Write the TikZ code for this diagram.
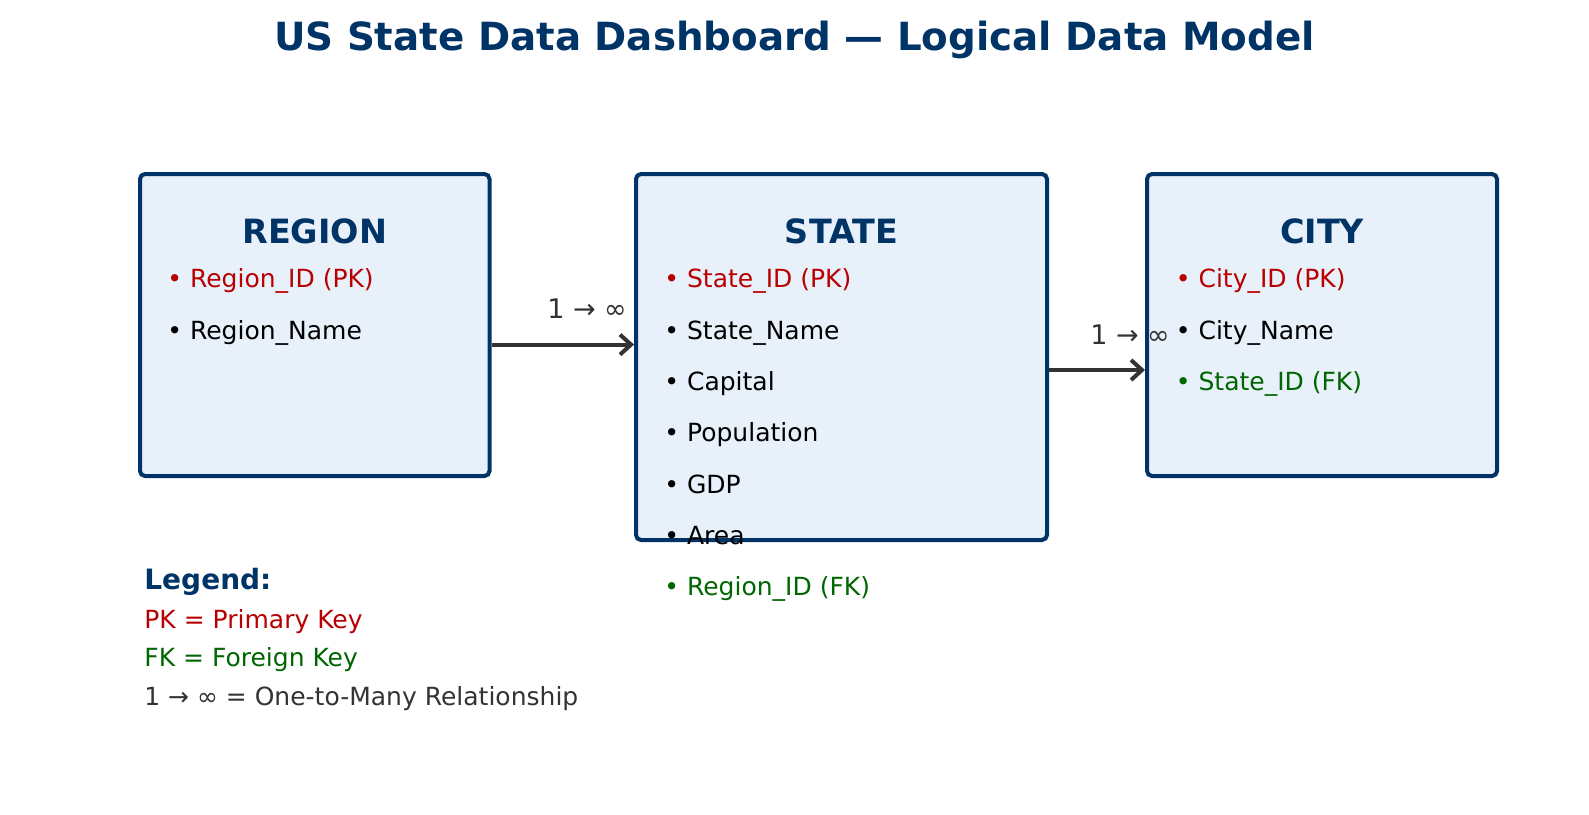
\documentclass[tikz,border=0pt]{standalone}
\usepackage{fontspec}
\setmainfont{DejaVu Sans}
\usetikzlibrary{arrows.meta}
\definecolor{navy}{HTML}{003366}
\definecolor{boxfill}{HTML}{E8F0FA}
\definecolor{pkred}{HTML}{B80000}
\definecolor{fkgreen}{HTML}{006600}
\definecolor{arrgray}{HTML}{333333}
\begin{document}
\begin{tikzpicture}[x=0.5pt,y=-0.5pt,
  entity/.style={draw=navy, fill=boxfill, line width=2pt, rounded corners=2.5pt, inner sep=0pt},
  etitle/.style={text=navy, font=\fontsize{16.7}{20}\selectfont\bfseries, inner sep=0pt, text height=0.73em, text depth=0pt},
  item/.style={anchor=west, font=\fontsize{12.5}{15}\selectfont, inner sep=0pt, text height=0.73em, text depth=0pt},
  rel/.style={text=arrgray, font=\fontsize{13.5}{16}\selectfont, inner sep=0pt, text height=0.73em, text depth=0pt},
  arr/.style={draw=arrgray, line width=2pt, -{Straight Barb[length=5.5pt,width=10pt]}},
  legtitle/.style={anchor=west, text=navy, font=\fontsize{14}{17}\selectfont\bfseries, inner sep=0pt, text height=0.73em, text depth=0pt},
  legitem/.style={anchor=west, font=\fontsize{12.5}{15}\selectfont, inner sep=0pt, text height=0.73em, text depth=0pt}]
\fill[white] (0,0) rectangle (1589,814);
\useasboundingbox (0,0) rectangle (1589,814);

% title
\node[text=navy, font=\fontsize{19.4}{23}\selectfont\bfseries, inner sep=0pt, text height=0.73em, text depth=0pt] (title) at (794.5,43.5) {US State Data Dashboard — Logical Data Model};

% entity boxes
\node[entity, minimum width=174.75pt, minimum height=151pt] (region) at (314.75,325) {};
\node[entity, minimum width=205.5pt, minimum height=183pt] (state) at (841.5,357) {};
\node[entity, minimum width=175pt, minimum height=151pt] (city) at (1322,325) {};

% region contents
\node[etitle] (rtitle) at (314.75,236) {REGION};
\node[item, text=pkred] (r1) at (167,280.5) {• Region\_ID (PK)};
\node[item, text=black] (r2) at (167,331.8) {• Region\_Name};

% state contents
\node[etitle] (stitle) at (841.5,236) {STATE};
\node[item, text=pkred] (s1) at (664,280.5) {• State\_ID (PK)};
\node[item, text=black] (s2) at (664,331.8) {• State\_Name};
\node[item, text=black] (s3) at (664,383.2) {• Capital};
\node[item, text=black] (s4) at (664,434.5) {• Population};
\node[item, text=black] (s5) at (664,485.8) {• GDP};
\node[item, text=black] (s6) at (664,537.2) {• Area};
\node[item, text=fkgreen] (s7) at (664,588.5) {• Region\_ID (FK)};

% city contents
\node[etitle] (ctitle) at (1322,236) {CITY};
\node[item, text=pkred] (c1) at (1175.5,280.5) {• City\_ID (PK)};
\node[item, text=black] (c2) at (1175.5,331.8) {• City\_Name};
\node[item, text=fkgreen] (c3) at (1175.5,383.2) {• State\_ID (FK)};

% relationships
\coordinate (y1) at (0,344.6);
\coordinate (y2) at (0,370);
\draw[arr] (region.east |- y1) -- (state.west |- y1);
\draw[arr] (state.east |- y2) -- (city.west |- y2);
\node[rel] (l1) at (587,311.5) {1 → ∞};
\node[rel] (l2) at (1130,337) {1 → ∞};

% legend
\node[legtitle] (lg) at (144,582) {Legend:};
\node[legitem, text=pkred] (lg1) at (144,620.7) {PK = Primary Key};
\node[legitem, text=fkgreen] (lg2) at (144,659.2) {FK = Foreign Key};
\node[legitem, text=arrgray] (lg3) at (144,697.7) {1 → ∞ = One-to-Many Relationship};
\end{tikzpicture}
\end{document}
